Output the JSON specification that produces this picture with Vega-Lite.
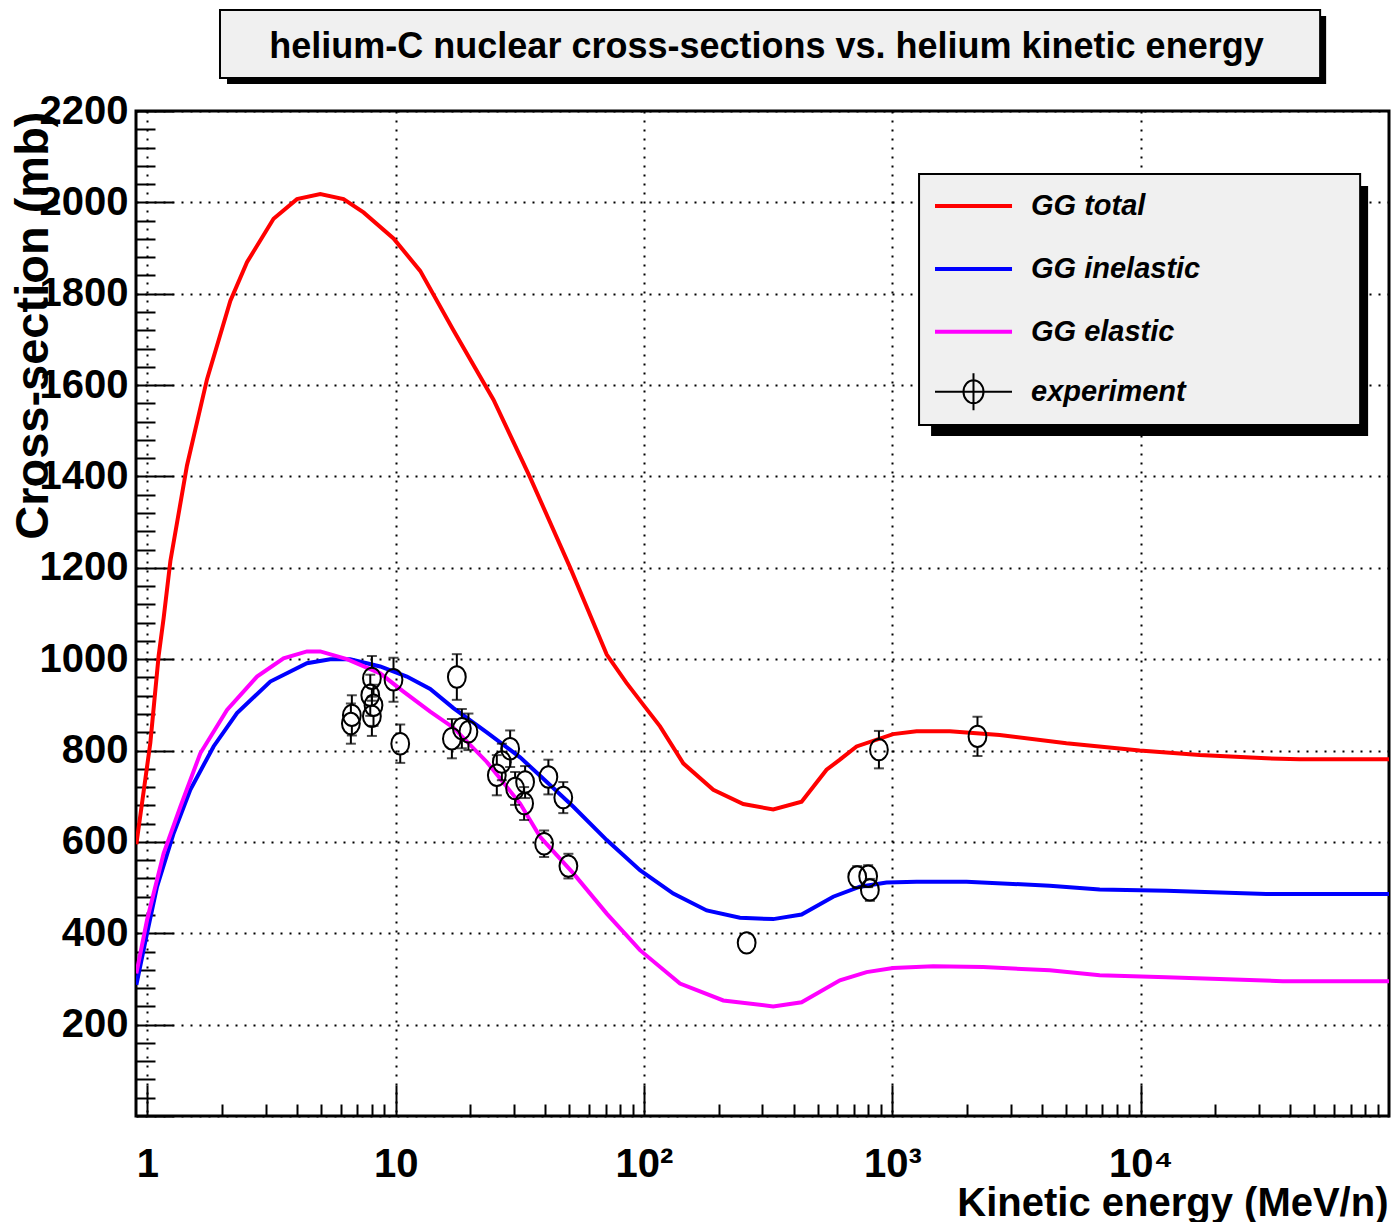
{
  "$schema": "https://vega.github.io/schema/vega-lite/v6.json",
  "width": 1253,
  "height": 1005,
  "autosize": {"type": "none"},
  "padding": {"left": 136, "top": 111, "right": 5, "bottom": 106},
  "background": "white",
  "title": {
    "text": "helium-C nuclear cross-sections vs. helium kinetic energy",
    "frame": "group",
    "anchor": "middle",
    "orient": "top",
    "offset": -85,
    "baseline": "alphabetic",
    "dx": 4,
    "font": "Liberation Sans",
    "fontSize": 36,
    "fontWeight": "bold",
    "color": "black"
  },
  "datasets": {
    "curves": [
      {"series": "GG total", "E": 0.903, "xs": 595},
      {"series": "GG total", "E": 1.028, "xs": 817},
      {"series": "GG total", "E": 1.11, "xs": 1007},
      {"series": "GG total", "E": 1.163, "xs": 1090},
      {"series": "GG total", "E": 1.238, "xs": 1215},
      {"series": "GG total", "E": 1.444, "xs": 1424},
      {"series": "GG total", "E": 1.739, "xs": 1613},
      {"series": "GG total", "E": 2.158, "xs": 1784},
      {"series": "GG total", "E": 2.519, "xs": 1869},
      {"series": "GG total", "E": 3.222, "xs": 1964},
      {"series": "GG total", "E": 4.004, "xs": 2007},
      {"series": "GG total", "E": 4.969, "xs": 2018},
      {"series": "GG total", "E": 6.166, "xs": 2007},
      {"series": "GG total", "E": 7.42, "xs": 1978},
      {"series": "GG total", "E": 9.8, "xs": 1921},
      {"series": "GG total", "E": 12.55, "xs": 1850},
      {"series": "GG total", "E": 17.08, "xs": 1720},
      {"series": "GG total", "E": 24.76, "xs": 1568},
      {"series": "GG total", "E": 34.77, "xs": 1398},
      {"series": "GG total", "E": 50.37, "xs": 1201},
      {"series": "GG total", "E": 70.78, "xs": 1010},
      {"series": "GG total", "E": 85, "xs": 948},
      {"series": "GG total", "E": 99.4, "xs": 900},
      {"series": "GG total", "E": 116, "xs": 853},
      {"series": "GG total", "E": 143.9, "xs": 772},
      {"series": "GG total", "E": 190.1, "xs": 714},
      {"series": "GG total", "E": 251, "xs": 683},
      {"series": "GG total", "E": 331.4, "xs": 671},
      {"series": "GG total", "E": 431.1, "xs": 688},
      {"series": "GG total", "E": 543.4, "xs": 758},
      {"series": "GG total", "E": 614.9, "xs": 780},
      {"series": "GG total", "E": 717.9, "xs": 809},
      {"series": "GG total", "E": 1007, "xs": 836},
      {"series": "GG total", "E": 1252, "xs": 842},
      {"series": "GG total", "E": 1704, "xs": 842},
      {"series": "GG total", "E": 2707, "xs": 834},
      {"series": "GG total", "E": 5023, "xs": 816},
      {"series": "GG total", "E": 9908, "xs": 800},
      {"series": "GG total", "E": 17280, "xs": 790},
      {"series": "GG total", "E": 32040, "xs": 783},
      {"series": "GG total", "E": 43630, "xs": 781},
      {"series": "GG total", "E": 100000, "xs": 781},
      {"series": "GG inelastic", "E": 0.903, "xs": 287},
      {"series": "GG inelastic", "E": 0.997, "xs": 400},
      {"series": "GG inelastic", "E": 1.094, "xs": 502},
      {"series": "GG inelastic", "E": 1.276, "xs": 619},
      {"series": "GG inelastic", "E": 1.489, "xs": 714},
      {"series": "GG inelastic", "E": 1.848, "xs": 809},
      {"series": "GG inelastic", "E": 2.296, "xs": 882},
      {"series": "GG inelastic", "E": 3.126, "xs": 951},
      {"series": "GG inelastic", "E": 4.392, "xs": 991},
      {"series": "GG inelastic", "E": 5.45, "xs": 1000},
      {"series": "GG inelastic", "E": 6.559, "xs": 1000},
      {"series": "GG inelastic", "E": 8.66, "xs": 984},
      {"series": "GG inelastic", "E": 11.09, "xs": 962},
      {"series": "GG inelastic", "E": 13.77, "xs": 935},
      {"series": "GG inelastic", "E": 17.08, "xs": 893},
      {"series": "GG inelastic", "E": 23.28, "xs": 840},
      {"series": "GG inelastic", "E": 31.7, "xs": 785},
      {"series": "GG inelastic", "E": 38.15, "xs": 745},
      {"series": "GG inelastic", "E": 51.94, "xs": 677},
      {"series": "GG inelastic", "E": 70.78, "xs": 604},
      {"series": "GG inelastic", "E": 96.3, "xs": 538},
      {"series": "GG inelastic", "E": 131.2, "xs": 487},
      {"series": "GG inelastic", "E": 178.8, "xs": 450},
      {"series": "GG inelastic", "E": 243.4, "xs": 434},
      {"series": "GG inelastic", "E": 331.4, "xs": 431},
      {"series": "GG inelastic", "E": 431.1, "xs": 441},
      {"series": "GG inelastic", "E": 577.8, "xs": 480},
      {"series": "GG inelastic", "E": 740.2, "xs": 502},
      {"series": "GG inelastic", "E": 947.7, "xs": 511},
      {"series": "GG inelastic", "E": 1252, "xs": 513},
      {"series": "GG inelastic", "E": 1989, "xs": 513},
      {"series": "GG inelastic", "E": 4304, "xs": 504},
      {"series": "GG inelastic", "E": 6839, "xs": 496},
      {"series": "GG inelastic", "E": 12690, "xs": 493},
      {"series": "GG inelastic", "E": 32040, "xs": 486},
      {"series": "GG inelastic", "E": 100000, "xs": 486},
      {"series": "GG elastic", "E": 0.903, "xs": 312},
      {"series": "GG elastic", "E": 0.997, "xs": 429},
      {"series": "GG elastic", "E": 1.163, "xs": 575},
      {"series": "GG elastic", "E": 1.358, "xs": 677},
      {"series": "GG elastic", "E": 1.634, "xs": 794},
      {"series": "GG elastic", "E": 2.093, "xs": 889},
      {"series": "GG elastic", "E": 2.764, "xs": 962},
      {"series": "GG elastic", "E": 3.536, "xs": 1002},
      {"series": "GG elastic", "E": 4.392, "xs": 1017},
      {"series": "GG elastic", "E": 4.969, "xs": 1017},
      {"series": "GG elastic", "E": 6.363, "xs": 1000},
      {"series": "GG elastic", "E": 8.66, "xs": 969},
      {"series": "GG elastic", "E": 10.75, "xs": 929},
      {"series": "GG elastic", "E": 13.77, "xs": 885},
      {"series": "GG elastic", "E": 17.08, "xs": 850},
      {"series": "GG elastic", "E": 23.28, "xs": 775},
      {"series": "GG elastic", "E": 31.7, "xs": 684},
      {"series": "GG elastic", "E": 38.15, "xs": 611},
      {"series": "GG elastic", "E": 51.94, "xs": 531},
      {"series": "GG elastic", "E": 70.78, "xs": 443},
      {"series": "GG elastic", "E": 96.3, "xs": 363},
      {"series": "GG elastic", "E": 139.6, "xs": 290},
      {"series": "GG elastic", "E": 208.5, "xs": 253},
      {"series": "GG elastic", "E": 331.4, "xs": 240},
      {"series": "GG elastic", "E": 431.1, "xs": 249},
      {"series": "GG elastic", "E": 614.9, "xs": 297},
      {"series": "GG elastic", "E": 787.6, "xs": 315},
      {"series": "GG elastic", "E": 1007, "xs": 324},
      {"series": "GG elastic", "E": 1460, "xs": 328},
      {"series": "GG elastic", "E": 2320, "xs": 326},
      {"series": "GG elastic", "E": 4304, "xs": 319},
      {"series": "GG elastic", "E": 6839, "xs": 308},
      {"series": "GG elastic", "E": 12690, "xs": 304},
      {"series": "GG elastic", "E": 37370, "xs": 295},
      {"series": "GG elastic", "E": 100000, "xs": 295}
    ],
    "exp": [
      {"E": 6.66, "xs": 877, "lo": 833, "hi": 921},
      {"E": 6.6, "xs": 859, "lo": 815, "hi": 903},
      {"E": 8.02, "xs": 958, "lo": 909, "hi": 1007},
      {"E": 7.9, "xs": 921, "lo": 876, "hi": 966},
      {"E": 8.14, "xs": 899, "lo": 854, "hi": 944},
      {"E": 8.02, "xs": 875, "lo": 832, "hi": 918},
      {"E": 9.8, "xs": 955, "lo": 907, "hi": 1003},
      {"E": 10.43, "xs": 815, "lo": 773, "hi": 857},
      {"E": 17.63, "xs": 961, "lo": 911, "hi": 1011},
      {"E": 16.84, "xs": 826, "lo": 783, "hi": 869},
      {"E": 18.47, "xs": 848, "lo": 805, "hi": 891},
      {"E": 19.63, "xs": 841, "lo": 801, "hi": 881},
      {"E": 28.9, "xs": 804, "lo": 764, "hi": 844},
      {"E": 26.76, "xs": 775, "lo": 735, "hi": 815},
      {"E": 25.54, "xs": 746, "lo": 702, "hi": 790},
      {"E": 30.26, "xs": 717, "lo": 681, "hi": 753},
      {"E": 33.2, "xs": 731, "lo": 696, "hi": 766},
      {"E": 32.9, "xs": 684, "lo": 648, "hi": 720},
      {"E": 41.2, "xs": 742, "lo": 704, "hi": 780},
      {"E": 47.3, "xs": 697, "lo": 663, "hi": 731},
      {"E": 39.6, "xs": 596, "lo": 567, "hi": 625},
      {"E": 49.6, "xs": 547, "lo": 520, "hi": 574},
      {"E": 259, "xs": 379, "lo": null, "hi": null},
      {"E": 722, "xs": 523, "lo": 499, "hi": 547},
      {"E": 799, "xs": 525, "lo": 501, "hi": 549},
      {"E": 812, "xs": 495, "lo": 471, "hi": 519},
      {"E": 883, "xs": 802, "lo": 761, "hi": 843},
      {"E": 2202, "xs": 831, "lo": 788, "hi": 874}
    ]
  },
  "layer": [
    {
      "description": "drop shadow of the title box",
      "data": {"values": [{}]},
      "mark": {"type": "rect", "fill": "black"},
      "encoding": {
        "x": {"datum": 2.093, "type": "quantitative", "scale": {"type": "log", "domain": [0.9, 100000], "nice": false}, "axis": null},
        "x2": {"datum": 55830},
        "y": {"datum": 2408, "type": "quantitative", "scale": {"domain": [0, 2200], "nice": false, "zero": false}, "axis": null},
        "y2": {"datum": 2259}
      }
    },
    {
      "description": "title box",
      "data": {"values": [{}]},
      "mark": {"type": "rect", "fill": "#f0f0f0", "stroke": "black", "strokeWidth": 2},
      "encoding": {
        "x": {"datum": 1.961, "type": "quantitative", "scale": {"type": "log", "domain": [0.9, 100000], "nice": false}, "axis": null},
        "x2": {"datum": 52800},
        "y": {"datum": 2421, "type": "quantitative", "scale": {"domain": [0, 2200], "nice": false, "zero": false}, "axis": null},
        "y2": {"datum": 2272}
      }
    },
    {
      "data": {"name": "curves"},
      "mark": {"type": "line", "strokeWidth": 4, "clip": true},
      "encoding": {
        "x": {
          "field": "E", "type": "quantitative",
          "scale": {"type": "log", "domain": [0.9, 100000], "nice": false},
          "axis": {
            "orient": "bottom",
            "values": [1, 10, 100, 1000, 10000],
            "grid": true,
            "tickSize": -31,
            "labelPadding": 59,
            "labelExpr": "datum.value == 1 ? '1' : datum.value == 10 ? '10' : datum.value == 100 ? '10²' : datum.value == 1000 ? '10³' : '10⁴'",
            "title": "Kinetic energy (MeV/n)",
            "titleX": 1252,
            "titleY": 99,
            "titleAlign": "right",
            "titleBaseline": "alphabetic",
            "titleFontSize": 40
          }
        },
        "y": {
          "field": "xs", "type": "quantitative",
          "scale": {"domain": [0, 2200], "nice": false, "zero": false},
          "axis": {
            "orient": "left",
            "values": [0, 200, 400, 600, 800, 1000, 1200, 1400, 1600, 1800, 2000, 2200],
            "grid": true,
            "tickSize": -37,
            "labelPadding": 45,
            "format": "d",
            "labelExpr": "datum.value == 0 ? '' : datum.label",
            "title": "Cross-section (mb)",
            "titleX": -103,
            "titleY": 0,
            "titleAngle": -90,
            "titleAlign": "right",
            "titleBaseline": "middle",
            "titleFontSize": 47
          }
        },
        "color": {
          "field": "series", "type": "nominal",
          "scale": {
            "domain": ["GG total", "GG inelastic", "GG elastic", "experiment"],
            "range": ["#ff0000", "#0000ff", "#ff00ff", "#000000"]
          },
          "legend": {
            "title": null,
            "orient": "none",
            "legendX": 804,
            "legendY": 80.5,
            "padding": 0,
            "symbolSize": 1521,
            "symbolStrokeWidth": 4,
            "labelOffset": 62,
            "labelLimit": 0,
            "rowPadding": 9.9,
            "labelFont": "Liberation Sans",
            "labelFontSize": 29,
            "labelFontWeight": "bold",
            "labelFontStyle": "italic",
            "labelColor": "black",
            "labelBaseline": "middle",
            "encode": {
              "symbols": {
                "update": {
                  "shape": {"signal": "datum.value === 'experiment' ? 'M-1,0H2.95M0.974,-0.95V0.95M0.46,0A0.514,0.59 0 1,0 1.488,0A0.514,0.59 0 1,0 0.46,0' : 'M-1,0H2.95M0.974,-0.9M0.974,0.9'"},
                  "strokeWidth": {"signal": "datum.value === 'experiment' ? 2 : 4"},
                  "fill": {"value": "transparent"}
                }
              }
            }
          }
        }
      }
    },
    {
      "description": "drop shadow of the legend box",
      "data": {"values": [{}]},
      "mark": {"type": "rect", "fill": "black"},
      "encoding": {
        "x": {"datum": 1432, "type": "quantitative", "scale": {"type": "log", "domain": [0.9, 100000], "nice": false}, "axis": null},
        "x2": {"datum": 82390},
        "y": {"datum": 2035.8, "type": "quantitative", "scale": {"domain": [0, 2200], "nice": false, "zero": false}, "axis": null},
        "y2": {"datum": 1488.6}
      }
    },
    {
      "description": "legend box",
      "data": {"values": [{}]},
      "mark": {"type": "rect", "fill": "#f0f0f0", "stroke": "black", "strokeWidth": 2},
      "encoding": {
        "x": {"datum": 1281, "type": "quantitative", "scale": {"type": "log", "domain": [0.9, 100000], "nice": false}, "axis": null},
        "x2": {"datum": 76520},
        "y": {"datum": 2062.1, "type": "quantitative", "scale": {"domain": [0, 2200], "nice": false, "zero": false}, "axis": null},
        "y2": {"datum": 1512.6}
      }
    },
    {
      "data": {"name": "exp"},
      "transform": [{"filter": {"field": "hi", "valid": true}}],
      "mark": {"type": "rule", "color": "black", "strokeWidth": 2, "yOffset": -10.5},
      "encoding": {
        "x": {"field": "E", "type": "quantitative", "scale": {"type": "log", "domain": [0.9, 100000], "nice": false}, "axis": null},
        "y": {"field": "xs", "type": "quantitative", "scale": {"domain": [0, 2200], "nice": false, "zero": false}, "axis": null},
        "y2": {"field": "hi"}
      }
    },
    {
      "data": {"name": "exp"},
      "transform": [{"filter": {"field": "lo", "valid": true}}],
      "mark": {"type": "rule", "color": "black", "strokeWidth": 2, "yOffset": 10.5},
      "encoding": {
        "x": {"field": "E", "type": "quantitative", "scale": {"type": "log", "domain": [0.9, 100000], "nice": false}, "axis": null},
        "y": {"field": "xs", "type": "quantitative", "scale": {"domain": [0, 2200], "nice": false, "zero": false}, "axis": null},
        "y2": {"field": "lo"}
      }
    },
    {
      "data": {"name": "exp"},
      "transform": [{"filter": {"field": "hi", "valid": true}}],
      "mark": {"type": "tick", "orient": "horizontal", "color": "black", "size": 10, "thickness": 2},
      "encoding": {
        "x": {"field": "E", "type": "quantitative", "scale": {"type": "log", "domain": [0.9, 100000], "nice": false}, "axis": null},
        "y": {"field": "hi", "type": "quantitative", "scale": {"domain": [0, 2200], "nice": false, "zero": false}, "axis": null}
      }
    },
    {
      "data": {"name": "exp"},
      "transform": [{"filter": {"field": "lo", "valid": true}}],
      "mark": {"type": "tick", "orient": "horizontal", "color": "black", "size": 10, "thickness": 2},
      "encoding": {
        "x": {"field": "E", "type": "quantitative", "scale": {"type": "log", "domain": [0.9, 100000], "nice": false}, "axis": null},
        "y": {"field": "lo", "type": "quantitative", "scale": {"domain": [0, 2200], "nice": false, "zero": false}, "axis": null}
      }
    },
    {
      "data": {"name": "exp"},
      "mark": {
        "type": "point",
        "shape": "M-0.83,0A0.83,1 0 1,0 0.83,0A0.83,1 0 1,0 -0.83,0Z",
        "size": 460,
        "filled": false,
        "color": "black",
        "strokeWidth": 2,
        "opacity": 1
      },
      "encoding": {
        "x": {
          "field": "E", "type": "quantitative",
          "scale": {"type": "log", "domain": [0.9, 100000], "nice": false},
          "axis": {
            "orient": "bottom",
            "values": [2, 3, 4, 5, 6, 7, 8, 9, 20, 30, 40, 50, 60, 70, 80, 90, 200, 300, 400, 500, 600, 700, 800, 900, 2000, 3000, 4000, 5000, 6000, 7000, 8000, 9000, 20000, 30000, 40000, 50000, 60000, 70000, 80000, 90000],
            "grid": false,
            "labels": false,
            "title": null,
            "tickSize": -12
          }
        },
        "y": {
          "field": "xs", "type": "quantitative",
          "scale": {"domain": [0, 2200], "nice": false, "zero": false},
          "axis": {
            "orient": "left",
            "values": [40, 80, 120, 160, 240, 280, 320, 360, 440, 480, 520, 560, 640, 680, 720, 760, 840, 880, 920, 960, 1040, 1080, 1120, 1160, 1240, 1280, 1320, 1360, 1440, 1480, 1520, 1560, 1640, 1680, 1720, 1760, 1840, 1880, 1920, 1960, 2040, 2080, 2120, 2160],
            "grid": false,
            "labels": false,
            "title": null,
            "tickSize": -19
          }
        }
      }
    }
  ],
  "resolve": {"axis": {"x": "independent", "y": "independent"}},
  "config": {
    "font": "Liberation Sans",
    "view": {"stroke": "black", "strokeWidth": 3},
    "axis": {
      "domain": false,
      "tickColor": "black",
      "tickWidth": 2,
      "gridColor": "black",
      "gridDash": [2, 7],
      "gridWidth": 2,
      "gridOpacity": 1,
      "labelFont": "Liberation Sans",
      "labelFontSize": 40,
      "labelFontWeight": "bold",
      "labelColor": "black",
      "labelOverlap": false,
      "labelFlush": false,
      "titleFont": "Liberation Sans",
      "titleFontWeight": "bold",
      "titleColor": "black"
    }
  }
}
